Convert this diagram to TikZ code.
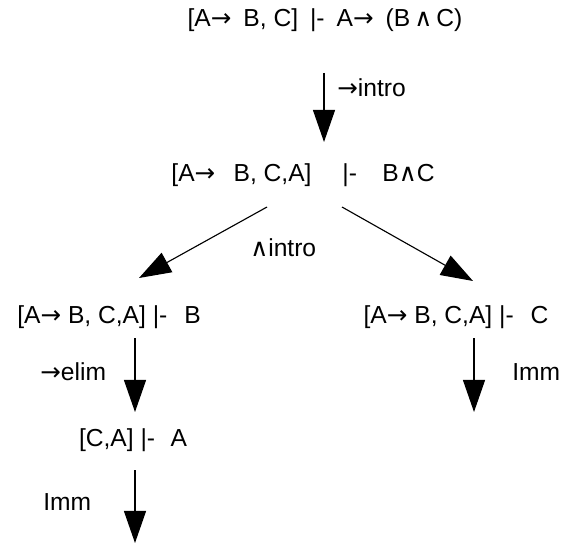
\documentclass[tikz,border=0pt]{standalone}
\usepackage{fontspec}
\setmainfont{Liberation Sans}
\newfontfamily\symfont{DejaVu Sans}
\usetikzlibrary{arrows.meta, calc}
\newcommand{\wedgesym}{{\symfont ∧}}
\newcommand{\impsym}{{\symfont →}}
\newcommand{\gap}[1]{\hspace{#1pt}}

\begin{document}
\begin{tikzpicture}[
    x=0.025cm, y=-0.025cm,
    every node/.style={font=\fontsize{17.5}{20}\selectfont, inner sep=0pt},
    seq/.style={anchor=center},
    rulelbl/.style={anchor=west},
    arrow/.style={-{Triangle[length=0.8cm, width=0.55cm]}, line width=0.8pt},
  ]
  \useasboundingbox (0,0) rectangle (563,544);

  % ---- Sequents ----
  \node[seq] (top) at (325,20) {[A\impsym\gap{8.5}B, C]\gap{8.5}|-\gap{8.5}A\impsym\gap{8.5}(B\,\wedgesym\,C)};
  \node[seq] (mid) at (303,175) {[A\impsym\gap{13}B, C,A]\gap{22}|-\gap{18}B\wedgesym C};
  \node[seq] (lb) at (109,317) {[A\impsym\ B, C,A] |-\gap{12}B};
  \node[seq] (rb) at (456,317) {[A\impsym\ B, C,A] |-\gap{12}C};
  \node[seq] (ca) at (133,440) {[C,A] |-\gap{11}A};

  % ---- Free ends ----
  \coordinate (rbend) at (474,412);
  \coordinate (caend) at (135,543);

  % ---- Rule labels ----
  \node[rulelbl] (limp) at (337,88) {\impsym intro};
  \node[rulelbl] (land) at (250,248) {\wedgesym intro};
  \node[rulelbl] (lelim) at (40,372) {\impsym elim};
  \node[rulelbl] (limma) at (512,372) {Imm};
  \node[rulelbl] (limmb) at (43,502) {Imm};

  % ---- Arrows ----
  \draw[arrow] ($(top)+(-1,53)$) -- ($(mid)+(21,-33)$);
  \draw[arrow] ($(mid)+(-36,32)$) -- ($(lb)+(30,-39)$);
  \draw[arrow] ($(mid)+(39,32)$) -- ($(rb)+(17,-36)$);
  \draw[arrow] ($(lb)+(26,21)$) -- ($(ca)+(2,-28)$);
  \draw[arrow] ($(rb)+(18,21)$) -- (rbend);
  \draw[arrow] ($(ca)+(2,30)$) -- (caend);

\end{tikzpicture}
\end{document}
